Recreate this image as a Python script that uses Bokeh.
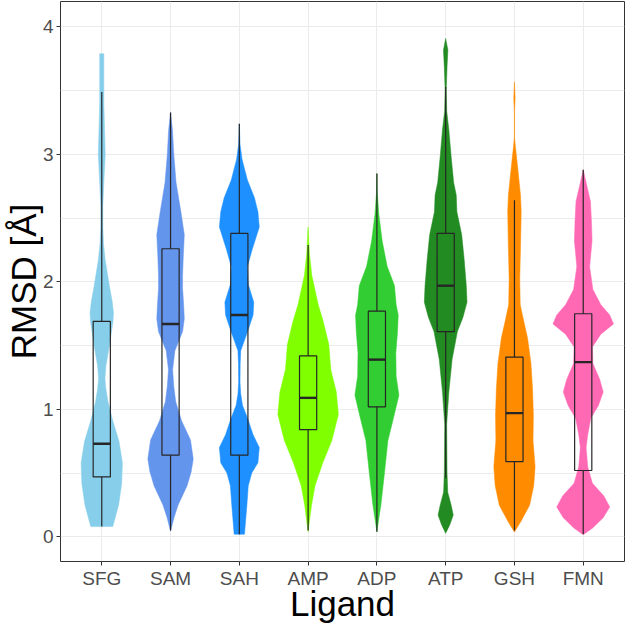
from bokeh.plotting import figure
from bokeh.models import Range1d, FixedTicker, ColumnDataSource
from bokeh.embed import file_html
from bokeh.resources import INLINE

# ---------------- data ----------------
ligands = ["SFG", "SAM", "SAH", "AMP", "ADP", "ATP", "GSH", "FMN"]
colors = ["#87CEEB", "#6495ED", "#1E90FF", "#7FFF00", "#32CD32", "#228B22", "#FF8C00", "#FF69B4"]

# violin density profiles: RMSD level and half-width (category units)
SFG_Y = [0.08, 0.25, 0.42, 0.58, 0.75, 0.91, 1.06, 1.16, 1.24, 1.34, 1.52, 1.69, 1.76, 1.85, 1.97, 2.17, 2.30, 2.43, 2.60, 2.78, 3.00, 3.20, 3.40, 3.56, 3.79]
SFG_W = [0.16, 0.245, 0.29, 0.30, 0.25, 0.16, 0.09, 0.06, 0.046, 0.06, 0.117, 0.163, 0.17, 0.15, 0.11, 0.05, 0.025, 0.015, 0.015, 0.03, 0.05, 0.04, 0.03, 0.03, 0.03]

SAM_Y = [0.044, 0.15, 0.25, 0.40, 0.51, 0.61, 0.76, 0.91, 1.06, 1.18, 1.31, 1.46, 1.61, 1.71, 1.82, 1.95, 2.05, 2.20, 2.37, 2.55, 2.78, 3.00, 3.19, 3.33]
SAM_W = [0.0, 0.05, 0.11, 0.24, 0.30, 0.33, 0.29, 0.16, 0.075, 0.047, 0.03, 0.063, 0.175, 0.20, 0.19, 0.175, 0.175, 0.185, 0.20, 0.15, 0.08, 0.047, 0.028, 0.0]

SAH_Y = [0.02, 0.25, 0.40, 0.50, 0.58, 0.70, 0.80, 0.93, 1.03, 1.12, 1.21, 1.35, 1.46, 1.61, 1.74, 1.84, 1.98, 2.12, 2.26, 2.43, 2.55, 2.66, 2.80, 2.96, 3.08, 3.24]
SAH_W = [0.075, 0.11, 0.13, 0.18, 0.27, 0.29, 0.20, 0.12, 0.047, 0.02, 0.01, 0.012, 0.02, 0.12, 0.20, 0.21, 0.13, 0.117, 0.19, 0.29, 0.27, 0.22, 0.117, 0.04, 0.01, 0.0]

AMP_Y = [0.04, 0.25, 0.40, 0.576, 0.755, 0.96, 1.135, 1.31, 1.51, 1.69, 1.82, 2.05, 2.22, 2.43]
AMP_W = [0.0, 0.05, 0.10, 0.21, 0.345, 0.44, 0.41, 0.33, 0.30, 0.22, 0.147, 0.054, 0.02, 0.0]

ADP_Y = [0.04, 0.25, 0.50, 0.755, 0.93, 1.11, 1.26, 1.44, 1.61, 1.74, 1.82, 1.97, 2.05, 2.12, 2.32, 2.53, 2.70, 2.85]
ADP_W = [0.0, 0.058, 0.11, 0.16, 0.24, 0.32, 0.28, 0.275, 0.30, 0.31, 0.28, 0.256, 0.20, 0.15, 0.077, 0.028, 0.006, 0.0]

ATP_Y = [0.027, 0.095, 0.17, 0.247, 0.35, 0.50, 0.88, 1.135, 1.39, 1.61, 1.72, 1.84, 1.97, 2.17, 2.37, 2.55, 2.68, 2.78, 2.98, 3.19, 3.34, 3.51, 3.69, 3.82, 3.91]
ATP_W = [0.0, 0.06, 0.11, 0.08, 0.03, 0.02, 0.014, 0.046, 0.093, 0.17, 0.25, 0.31, 0.30, 0.27, 0.233, 0.163, 0.154, 0.116, 0.08, 0.047, 0.015, 0.008, 0.02, 0.032, 0.0]

GSH_Y = [0.037, 0.12, 0.247, 0.40, 0.55, 0.755, 0.955, 1.16, 1.36, 1.56, 1.72, 1.82, 2.02, 2.27, 2.55, 2.68, 2.88, 3.06, 3.13, 3.35, 3.44, 3.57]
GSH_W = [0.0, 0.093, 0.22, 0.28, 0.30, 0.27, 0.275, 0.263, 0.24, 0.19, 0.123, 0.084, 0.077, 0.088, 0.098, 0.088, 0.05, 0.014, 0.002, 0.002, 0.01, 0.0]

FMN_Y = [0.02, 0.07, 0.15, 0.234, 0.32, 0.42, 0.55, 0.70, 0.80, 0.93, 1.03, 1.135, 1.235, 1.36, 1.49, 1.59, 1.67, 1.74, 1.82, 1.94, 2.12, 2.32, 2.47, 2.63, 2.75, 2.88]
FMN_W = [0.01, 0.14, 0.29, 0.385, 0.30, 0.133, 0.065, 0.042, 0.065, 0.11, 0.22, 0.29, 0.24, 0.14, 0.133, 0.256, 0.44, 0.385, 0.256, 0.14, 0.093, 0.128, 0.12, 0.105, 0.054, 0.0]

# box-plot statistics
q1 = [0.47, 0.64, 0.64, 0.84, 1.02, 1.61, 0.59, 0.52]
median = [0.73, 1.67, 1.74, 1.09, 1.39, 1.97, 0.97, 1.37]
q3 = [1.69, 2.26, 2.38, 1.42, 1.77, 2.38, 1.41, 1.75]
whisker_lo = [0.08, 0.05, 0.02, 0.05, 0.04, 0.46, 0.05, 0.02]
whisker_hi = [3.49, 3.33, 3.24, 2.29, 2.85, 3.53, 2.64, 2.88]

y_ticks = [0, 1, 2, 3, 4]
y_minor = [0.5, 1.5, 2.5, 3.5]

profiles = [(SFG_Y, SFG_W), (SAM_Y, SAM_W), (SAH_Y, SAH_W), (AMP_Y, AMP_W),
            (ADP_Y, ADP_W), (ATP_Y, ATP_W), (GSH_Y, GSH_W), (FMN_Y, FMN_W)]

# ---------------- figure ----------------
FONT = "Liberation Sans"
BOX_HALF = 0.125

p = figure(width=626, height=625, output_backend="svg", toolbar_location=None,
           x_range=Range1d(0.4, 8.6), y_range=Range1d(-0.194, 4.2))
p.background_fill_color = "white"
p.border_fill_color = "white"
p.outline_line_color = "#333333"
p.outline_line_width = 1
p.min_border_left = 0
p.min_border_right = 2
p.min_border_top = 1
p.min_border_bottom = 0

xs, ys = [], []
positions = list(range(1, len(ligands) + 1))
for pos, (vy, vw) in zip(positions, profiles):
    right = [pos + w for w in vw]
    left = [pos - w for w in reversed(vw)]
    xs.append(right + left)
    ys.append(list(vy) + list(reversed(vy)))

p.patches(xs="xs", ys="ys", source=ColumnDataSource(dict(xs=xs, ys=ys, c=colors)),
          fill_color="c", line_color="c", line_width=0.5)

box = ColumnDataSource(dict(
    x=positions,
    left=[x - BOX_HALF for x in positions],
    right=[x + BOX_HALF for x in positions],
    q1=q1, q3=q3, med=median, lo=whisker_lo, hi=whisker_hi,
))
LC = "#262626"
p.segment(x0="x", x1="x", y0="lo", y1="q1", source=box, line_color=LC, line_width=1.2)
p.segment(x0="x", x1="x", y0="q3", y1="hi", source=box, line_color=LC, line_width=1.2)
p.quad(left="left", right="right", bottom="q1", top="q3", source=box,
       fill_color=None, line_color=LC, line_width=1.2)
p.segment(x0="left", x1="right", y0="med", y1="med", source=box, line_color=LC, line_width=2.4)

# axes
p.xaxis.ticker = FixedTicker(ticks=positions)
p.xaxis.major_label_overrides = {pos: name for pos, name in zip(positions, ligands)}
p.yaxis.ticker = FixedTicker(ticks=y_ticks)
p.xgrid.ticker = FixedTicker(ticks=positions)
p.ygrid.ticker = FixedTicker(ticks=y_ticks, minor_ticks=y_minor)
p.grid.grid_line_color = "#EBEBEB"
p.grid.grid_line_width = 1
p.ygrid.minor_grid_line_color = "#EBEBEB"
p.ygrid.minor_grid_line_width = 1

for ax in (p.xaxis[0], p.yaxis[0]):
    ax.axis_line_color = None
    ax.major_tick_line_color = "#333333"
    ax.major_tick_out = 4
    ax.major_tick_in = 0
    ax.minor_tick_line_color = None
    ax.major_label_text_font = FONT
    ax.major_label_text_font_size = "19px"
    ax.major_label_text_color = "#4D4D4D"
    ax.axis_label_text_font = FONT
    ax.axis_label_text_font_size = "35px"
    ax.axis_label_text_font_style = "normal"
    ax.axis_label_text_color = "black"

p.xaxis.axis_label = "Ligand"
p.yaxis.axis_label = "RMSD [Å]"
p.xaxis.major_label_standoff = 2
p.xaxis.axis_label_standoff = -8
p.yaxis.major_label_standoff = 3
p.yaxis.axis_label_standoff = -3

open("out.html", "w").write(file_html(p, INLINE))
